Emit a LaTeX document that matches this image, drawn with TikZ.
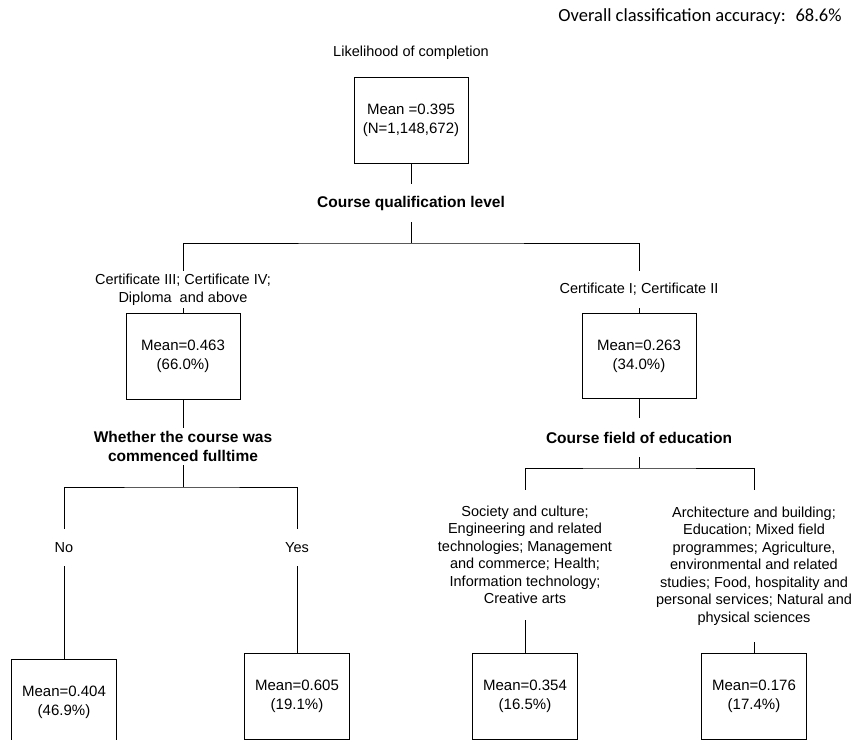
\documentclass[tikz,border=0pt]{standalone}
\usepackage{fontspec}
\setmainfont{Liberation Sans}
\newfontfamily\calfont{Carlito}
\tikzset{
  every picture/.style={line width=0.9pt},
  meanbox/.style={draw, anchor=north, minimum width=114pt, minimum height=86pt, inner sep=0pt, align=center, font=\fontsize{15}{19}\selectfont},
  leafbox/.style={meanbox, minimum width=105pt},
  lab/.style={inner sep=0pt, align=center, font=\fontsize{14.5}{17.5}\selectfont},
  split/.style={inner sep=0pt, align=center, font=\fontsize{15.5}{19}\selectfont\bfseries},
}
\begin{document}
\begin{tikzpicture}[x=1pt,y=-1pt]
\useasboundingbox (0,0) rectangle (851,739);
\clip (0,0) rectangle (851,739);
% header
\node[anchor=east, inner sep=0pt, font=\calfont\fontsize{18.5}{22}\selectfont] (acc) at (842,17) {Overall classification accuracy:~ 68.6\%};
\node[lab] (title) at (411,53) {Likelihood of completion};
% root
\node[meanbox] (root) at (411,77) {Mean =0.395\\(N=1,148,672)};
\node[split, minimum height=38pt] (q1) at (411,203) {Course qualification level};
\coordinate (j1) at (411,243);
\node[lab, minimum height=37pt] (labA) at (183,289.5) {Certificate III; Certificate IV;\\Diploma~ and above};
\node[lab, minimum height=37pt] (labB) at (639,289.5) {Certificate I; Certificate II};
\node[meanbox] (boxA) at (183,313) {Mean=0.463\\(66.0\%)};
\node[meanbox, minimum height=85pt] (boxB) at (639,313) {Mean=0.263\\(34.0\%)};
% left subtree
\node[split, minimum height=37pt] (q2) at (183,446.5) {Whether the course was\\commenced fulltime};
\coordinate (j2) at (183,487);
\node[lab, minimum height=37pt] (no) at (64,547.5) {No};
\node[lab, minimum height=37pt] (yes) at (297,547.5) {Yes};
\node[leafbox] (b1) at (64,659) {Mean=0.404\\(46.9\%)};
\node[leafbox] (b2) at (297,653) {Mean=0.605\\(19.1\%)};
% right subtree
\node[split, minimum height=39pt] (q3) at (639,437.5) {Course field of education};
\coordinate (j3) at (639,468);
\node[lab, minimum height=130pt] (labC) at (525,555) {Society and culture;\\Engineering and related\\technologies; Management\\and commerce; Health;\\Information technology;\\Creative arts};
\node[lab, minimum height=152pt] (labD) at (754,566) {Architecture and building;\\Education; Mixed field\\programmes; Agriculture,\\environmental and related\\studies; Food, hospitality and\\personal services; Natural and\\physical sciences};
\node[leafbox] (b3) at (525,653) {Mean=0.354\\(16.5\%)};
\node[leafbox] (b4) at (754,653) {Mean=0.176\\(17.4\%)};
% connectors
\draw (root) -- (q1);
\draw (q1) -- (j1);
\draw (labA.north) |- (j1) -| (labB.north);
\draw (labA) -- (boxA);
\draw (labB) -- (boxB);
\draw (boxA) -- (q2);
\draw (q2) -- (j2);
\draw (no.north) |- (j2) -| (yes.north);
\draw (no) -- (b1);
\draw (yes) -- (b2);
\draw (boxB) -- (q3);
\draw (q3) -- (j3);
\draw (labC.north) |- (j3) -| (labD.north);
\draw (labC) -- (b3);
\draw (labD) -- (b4);
\end{tikzpicture}
\end{document}
